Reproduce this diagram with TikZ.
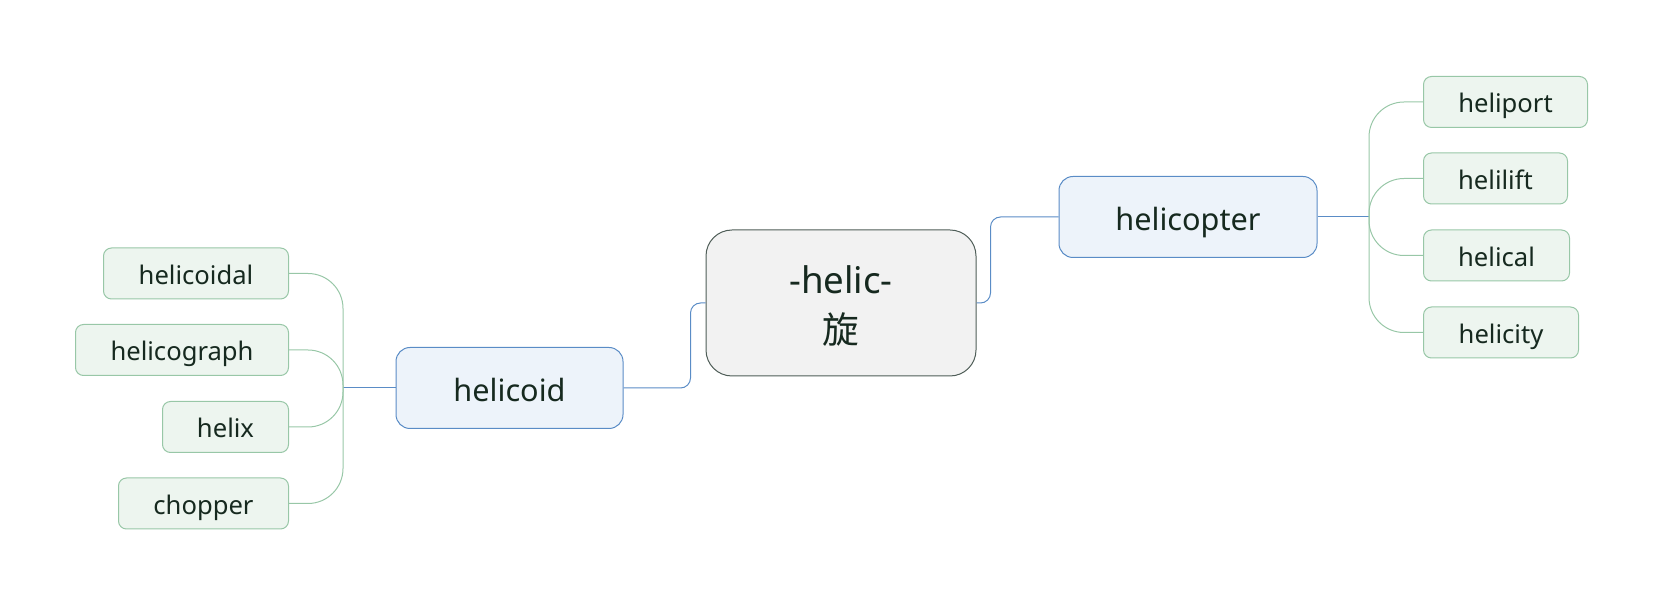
\documentclass[tikz,border=0pt]{standalone}
\usepackage{fontspec}
\setmainfont{Noto Sans}
\newfontfamily\cjk{Noto Sans CJK SC}
\definecolor{ink}{HTML}{16291F}
\definecolor{rootfill}{HTML}{F2F2F2}
\definecolor{rootline}{HTML}{4F5E58}
\definecolor{topicfill}{HTML}{EDF3FA}
\definecolor{topicline}{HTML}{5A8CC6}
\definecolor{subfill}{HTML}{EDF5EF}
\definecolor{subline}{HTML}{98C7A7}
\tikzset{
    root/.style={draw=rootline, fill=rootfill, line width=0.75pt, rounded corners=19.5pt, minimum width=202.5pt, minimum height=109.5pt, inner sep=0pt, align=center, text=ink, font=\fontsize{27.5}{37.5}\selectfont},
    topic/.style={draw=topicline, fill=topicfill, line width=0.75pt, rounded corners=10.5pt, minimum height=60.75pt, inner sep=0pt, text height=23pt, text depth=3.2pt, text=ink, font=\fontsize{23}{28}\selectfont},
    sub/.style={draw=subline, fill=subfill, line width=0.75pt, rounded corners=6pt, minimum height=38.25pt, inner sep=0pt, text height=19.2pt, text depth=3.4pt, text=ink, font=\fontsize{19.2}{23}\selectfont},
    topicwire/.style={draw=topicline, line width=0.75pt, rounded corners=7.5pt},
    subwire/.style={draw=subline, line width=0.75pt, rounded corners=26.25pt}
}
\begin{document}
\begin{tikzpicture}[x=0.75pt, y=-0.75pt]
    \useasboundingbox (0,0) rectangle (1664,605);
    \node[root] (helic) at (841,303) {\rule{0pt}{25pt}-helic-\\{\cjk 旋}};
    \node[topic, minimum width=193.5pt] (helicopter) at (1188,217) {helicopter};
    \node[topic, minimum width=170.25pt] (helicoid) at (509.5,388) {helicoid};
    \coordinate (rj) at (1369,217);
    \coordinate (lj) at (343,388);
    \node[sub, minimum width=123pt, anchor=west] (heliport) at (1423,102) {heliport};
    \node[sub, minimum width=108pt, anchor=west] (helilift) at (1423,178.5) {helilift};
    \node[sub, minimum width=109.5pt, anchor=west] (helical) at (1423,255.5) {helical};
    \node[sub, minimum width=116.25pt, anchor=west] (helicity) at (1423,332.5) {helicity};
    \node[sub, minimum width=138.75pt, anchor=east] (helicoidal) at (289,273.5) {helicoidal};
    \node[sub, minimum width=159.75pt, anchor=east] (helicograph) at (289,350) {helicograph};
    \node[sub, minimum width=94.5pt, anchor=east] (helix) at (289,427) {helix};
    \node[sub, minimum width=127.5pt, anchor=east] (chopper) at (289,503.5) {chopper};
    \draw[topicwire] (helic.east) -- ++(14,0) |- (helicopter.west);
    \draw[topicwire] (helic.west) -- ++(-15,0) |- (helicoid.east);
    \draw[topicwire] (helicopter.east) -- (rj);
    \draw[topicwire] (helicoid.west) -- (lj);
    \draw[subwire] (rj) |- (heliport.west);
    \draw[subwire] (rj) |- (helilift.west);
    \draw[subwire] (rj) |- (helical.west);
    \draw[subwire] (rj) |- (helicity.west);
    \draw[subwire] (lj) |- (helicoidal.east);
    \draw[subwire] (lj) |- (helicograph.east);
    \draw[subwire] (lj) |- (helix.east);
    \draw[subwire] (lj) |- (chopper.east);
\end{tikzpicture}
\end{document}
